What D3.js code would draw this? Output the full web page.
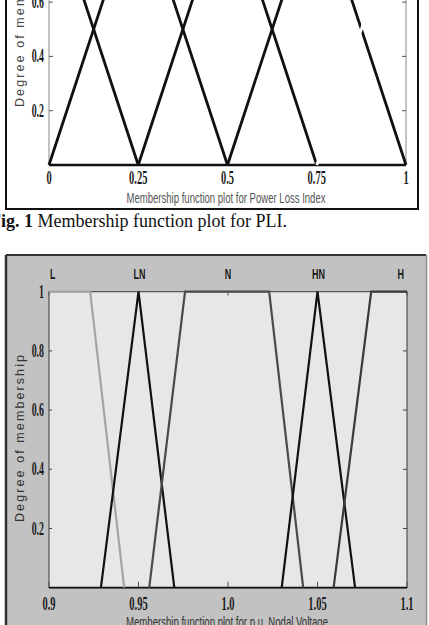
<!DOCTYPE html>
<html><head><meta charset="utf-8">
<script src="https://d3js.org/d3.v7.min.js"></script>
<style>html,body{margin:0;padding:0;background:#fff;overflow:hidden}</style>
</head><body>
<script>
// ---- Data: Fig. 1 (Power Loss Index) ----
const pliNames = ["MF1","MF2","MF3","MF4","MF5"];
const pliParams = [[-0.25,0,0.25],[0,0.25,0.5],[0.25,0.5,0.75],[0.5,0.75,1],[0.75,1,1.25]];
const pliXTicks = [0,0.25,0.5,0.75,1];
const pliXTickLabels = ["0","0.25","0.5","0.75","1"];
const pliYTicks = [0.2,0.4,0.6,0.8,1];
const pliYTickLabels = ["0.2","0.4","0.6","0.8","1"];
// ---- Data: Fig. 2 (p.u. Nodal Voltage) ----
const voltNames = ["L","LN","N","HN","H"];
const voltParams = [[0.88,0.9,0.923,0.942],[0.929,0.95,0.97],[0.956,0.976,1.023,1.042],[1.03,1.05,1.071],[1.059,1.08,1.1,1.12]];
const voltXTicks = [0.9,0.95,1.0,1.05,1.1];
const voltXTickLabels = ["0.9","0.95","1.0","1.05","1.1"];
const voltYTicks = [0.2,0.4,0.6,0.8,1];
const voltYTickLabels = ["0.2","0.4","0.6","0.8","1"];

const W=429,H=625;
const svg=d3.select("body").append("svg").attr("width",W).attr("height",H);

function mfValue(p,x){
  const q = p.length===3 ? [p[0],p[1],p[1],p[2]] : p;
  const [a,b,c,d]=q;
  let up = b===a ? (x>=a?1:0) : (x-a)/(b-a);
  let dn = d===c ? (x<=d?1:0) : (d-x)/(d-c);
  return Math.max(0,Math.min(up,1,dn));
}
function mfPoints(p,dom){
  const q = p.length===3 ? [p[0],p[1],p[1],p[2]] : p;
  let xs=[q[0],q[1],q[2],q[3],dom[0],dom[1]].filter(x=>x>=dom[0]&&x<=dom[1]&&x>=q[0]&&x<=q[3]);
  xs=Array.from(new Set(xs)).sort((a,b)=>a-b);
  return xs.map(x=>[x,mfValue(p,x)]);
}
function condText(g,x,y,str,opt){
  return g.append("text").attr("transform",`translate(${x},${y}) scale(${opt.sx||1},1)`)
    .attr("text-anchor",opt.anchor||"middle")
    .attr("font-family",opt.family||"'Liberation Serif', serif")
    .attr("font-weight",opt.weight||"bold")
    .attr("font-size",opt.size||19)
    .attr("fill",opt.fill||"#1a1a1a").text(str);
}

// ================= Fig. 1 =================
const g1=svg.append("g");
g1.append("rect").attr("x",6).attr("y",-20).attr("width",412).attr("height",229)
  .attr("fill","#fff").attr("stroke","#111").attr("stroke-width",2);
const x1=d3.scaleLinear().domain([0,1]).range([49,406]);
const y1=d3.scaleLinear().domain([0,1]).range([165,-106.5]);
g1.append("line").attr("x1",x1(0)).attr("x2",x1(0)).attr("y1",y1(0)).attr("y2",y1(1)).attr("stroke","#888").attr("stroke-width",1);
g1.append("line").attr("x1",x1(1)).attr("x2",x1(1)).attr("y1",y1(0)).attr("y2",y1(1)).attr("stroke","#888").attr("stroke-width",1);
pliYTicks.forEach(t=>{
  g1.append("line").attr("x1",x1(0)).attr("x2",x1(0)+4).attr("y1",y1(t)).attr("y2",y1(t)).attr("stroke","#555");
  g1.append("line").attr("x1",x1(1)).attr("x2",x1(1)-4).attr("y1",y1(t)).attr("y2",y1(t)).attr("stroke","#555");
});
g1.append("line").attr("x1",x1(0)).attr("x2",x1(1)).attr("y1",y1(0)).attr("y2",y1(0)).attr("stroke","#111").attr("stroke-width",2.5);
const line1=d3.line().x(d=>x1(d[0])).y(d=>y1(d[1]));
pliParams.forEach((p,i)=>{
  g1.append("path").attr("d",line1(mfPoints(p,[0,1]))).attr("fill","none")
    .attr("stroke", i===4 ? "#fff" : "#111").attr("stroke-width",2.8).attr("stroke-linejoin","miter");
});
// only tick labels that fall inside the visible page
pliYTicks.forEach((t,i)=>{ if(y1(t)>-4) condText(g1,44,y1(t)+6,pliYTickLabels[i],{anchor:"end",sx:0.52}); });
pliXTicks.forEach((t,i)=>condText(g1,x1(t),184,pliXTickLabels[i],{sx:0.55}));
g1.append("text").attr("x",226).attr("y",203).attr("text-anchor","middle")
  .attr("font-family","'Liberation Sans', Arial, sans-serif").attr("font-size",14)
  .attr("textLength",199).attr("lengthAdjust","spacingAndGlyphs").attr("fill","#555")
  .text("Membership function plot for Power Loss Index");
g1.append("text").attr("transform",`translate(24,${107}) rotate(-90)`).attr("text-anchor","start")
  .attr("font-family","'Liberation Sans', Arial, sans-serif").attr("font-size",12.5)
  .attr("textLength",167).attr("lengthAdjust","spacing").attr("fill","#444")
  .text("Degree of membership");
const cap=svg.append("text").attr("x",-10).attr("y",227)
  .attr("font-family","'Liberation Serif', 'Times New Roman', serif").attr("font-size",18).attr("fill","#111");
cap.append("tspan").attr("font-weight","bold").text("Fig. 1");
cap.append("tspan").text(" Membership function plot for PLI.");

// ================= Fig. 2 =================
const g2=svg.append("g");
g2.append("rect").attr("x",6).attr("y",255).attr("width",420).attr("height",400).attr("fill","#c2c2c2");
g2.append("line").attr("x1",6).attr("x2",426).attr("y1",255).attr("y2",255).attr("stroke","#333").attr("stroke-width",2);
g2.append("line").attr("x1",6).attr("x2",6).attr("y1",255).attr("y2",625).attr("stroke","#333").attr("stroke-width",2.5);
g2.append("line").attr("x1",426.5).attr("x2",426.5).attr("y1",255).attr("y2",625).attr("stroke","#8a8a8a").attr("stroke-width",1.5);
const x2=d3.scaleLinear().domain([0.9,1.1]).range([49,407]);
const y2=d3.scaleLinear().domain([0,1]).range([587.7,291.7]);
g2.append("rect").attr("x",x2(0.9)).attr("y",y2(1)).attr("width",x2(1.1)-x2(0.9)).attr("height",y2(0)-y2(1))
  .attr("fill","#e7e7e7").attr("stroke","#3a3a3a").attr("stroke-width",1);
voltYTicks.forEach(t=>{
  g2.append("line").attr("x1",x2(0.9)).attr("x2",x2(0.9)+3).attr("y1",y2(t)).attr("y2",y2(t)).attr("stroke","#444");
  g2.append("line").attr("x1",x2(1.1)).attr("x2",x2(1.1)-4).attr("y1",y2(t)).attr("y2",y2(t)).attr("stroke","#444");
});
voltXTicks.forEach(t=>{
  g2.append("line").attr("x1",x2(t)).attr("x2",x2(t)).attr("y1",y2(0)).attr("y2",y2(0)-6).attr("stroke","#555");
  g2.append("line").attr("x1",x2(t)).attr("x2",x2(t)).attr("y1",y2(1)).attr("y2",y2(1)+4).attr("stroke","#555");
});
g2.append("line").attr("x1",x2(0.9)).attr("x2",x2(1.1)).attr("y1",y2(0)).attr("y2",y2(0)).attr("stroke","#111").attr("stroke-width",1.8);
const voltColors=["#a4a4a4","#111","#4a4a4a","#111","#3a3a3a"];
const line2=d3.line().x(d=>x2(d[0])).y(d=>y2(d[1]));
voltParams.forEach((p,i)=>{
  g2.append("path").attr("d",line2(mfPoints(p,[0.9,1.1]))).attr("fill","none")
    .attr("stroke",voltColors[i]).attr("stroke-width",2.2).attr("stroke-linejoin","miter");
});
voltParams.forEach((p,i)=>{
  const q=p.length===3?[p[0],p[1],p[1],p[2]]:p;
  let cx=(q[1]+q[2])/2, anchor="middle";
  if(i===0){cx=0.9;anchor="start";}
  if(i===voltParams.length-1){cx=1.1;anchor="end";}
  const xx = x2(cx) + (i===0?1:(i===voltParams.length-1?-3:1));
  condText(g2,xx,279,voltNames[i],{anchor,sx:0.6,family:"'Liberation Sans', Arial, sans-serif",size:15,fill:"#1a1a1a"});
});
voltYTicks.forEach((t,i)=>condText(g2,44,y2(t)+6,voltYTickLabels[i],{anchor:"end",sx:0.52}));
voltXTicks.forEach((t,i)=>condText(g2,x2(t),610,voltXTickLabels[i],{sx:0.55}));
g2.append("text").attr("x",227).attr("y",627).attr("text-anchor","middle")
  .attr("font-family","'Liberation Sans', Arial, sans-serif").attr("font-size",14)
  .attr("textLength",202).attr("lengthAdjust","spacingAndGlyphs").attr("fill","#333")
  .text("Membership function plot for p.u. Nodal Voltage");
g2.append("text").attr("transform",`translate(24,${522}) rotate(-90)`).attr("text-anchor","start")
  .attr("font-family","'Liberation Sans', Arial, sans-serif").attr("font-size",12.5)
  .attr("textLength",167).attr("lengthAdjust","spacing").attr("fill","#333")
  .text("Degree of membership");
</script>
</body></html>
